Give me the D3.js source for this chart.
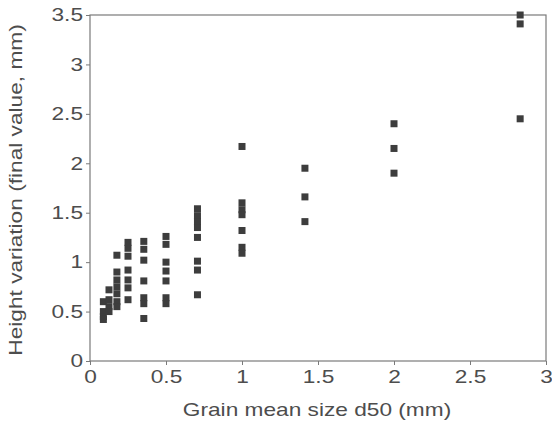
<!DOCTYPE html>
<html>
<head>
<meta charset="utf-8">
<script src="https://d3js.org/d3.v7.min.js"></script>
<style>
  body { margin: 0; background: #fff; }
  text { font-family: "Liberation Sans", Arial, sans-serif; fill: #4d4d4d; }
</style>
</head>
<body>
<svg width="552" height="424"></svg>
<script>
// grain sizes d50 (mm), one column of runs per size
const sizes = [0.088, 0.125, 0.177, 0.25, 0.354, 0.5, 0.707, 1.0, 1.414, 2.0, 2.83];
// final height variation (mm) for each run, per grain size
const heights = [
  [0.6, 0.5, 0.45, 0.42],
  [0.72, 0.62, 0.55, 0.5],
  [1.07, 0.9, 0.82, 0.75, 0.68, 0.6, 0.55],
  [1.2, 1.14, 1.06, 0.92, 0.82, 0.74, 0.62],
  [1.21, 1.13, 1.02, 0.81, 0.64, 0.58, 0.43],
  [1.26, 1.18, 1.0, 0.91, 0.81, 0.64, 0.58],
  [1.54, 1.47, 1.41, 1.35, 1.25, 1.01, 0.92, 0.67],
  [2.17, 1.6, 1.53, 1.48, 1.32, 1.15, 1.09],
  [1.95, 1.66, 1.41],
  [2.40, 2.15, 1.90],
  [3.5, 3.41, 2.45]
];
const xTicks = [0, 0.5, 1, 1.5, 2, 2.5, 3];
const yTicks = [0, 0.5, 1, 1.5, 2, 2.5, 3, 3.5];

const svg = d3.select("svg")
const margin = {top: 15, right: 6, bottom: 63, left: 90}
const W = 552, H = 424
const k = 1.26
const sx = `scale(${k},1)`  // the original lettering is wide

const x = d3.scaleLinear().domain([0, 3]).range([margin.left, W - margin.right])
const y = d3.scaleLinear().domain([0, 3.5]).range([H - margin.bottom, margin.top])

const pts = []
sizes.forEach((s, i) => heights[i].forEach(h => pts.push({d: s, h: h})))

// frame
svg.append("rect")
  .attr("x", x(0)).attr("y", y(3.5))
  .attr("width", x(3) - x(0)).attr("height", y(0) - y(3.5))
  .attr("fill", "none").attr("stroke", "#7a7a7a").attr("stroke-width", 1.2)

const xAxis = svg.append("g")
  .attr("transform", `translate(0,${y(0)})`)
  .call(d3.axisBottom(x).tickValues(xTicks).tickSize(4).tickPadding(4).tickFormat(d3.format("")))
const yAxis = svg.append("g")
  .attr("transform", `translate(${x(0)},0)`)
  .call(d3.axisLeft(y).tickValues(yTicks).tickSize(4).tickPadding(3).tickFormat(d3.format("")))

for (const ax of [xAxis, yAxis]) {
  ax.select(".domain").remove()
  ax.selectAll("line").attr("stroke", "#7a7a7a")
  ax.selectAll("text").attr("font-size", 18).attr("fill", "#4d4d4d")
    .style("font-family", "'Liberation Sans', Arial, sans-serif")
}
xAxis.selectAll("text").attr("transform", sx).attr("dy", "0.78em")
  .attr("x", 0)
yAxis.selectAll("text").attr("x", -7 / k).attr("transform", sx)

// points
svg.append("g")
  .selectAll("rect")
  .data(pts)
  .join("rect")
    .attr("x", d => x(d.d) - 3.5)
    .attr("y", d => y(d.h) - 3.5)
    .attr("width", 7)
    .attr("height", 7)
    .attr("fill", "#3d3d3d")

// axis titles
svg.append("text")
  .attr("transform", `translate(317,${H - 8}) ${sx}`)
  .attr("text-anchor", "middle")
  .attr("font-size", 18)
  .text("Grain mean size d50 (mm)")

svg.append("text")
  .attr("transform", `translate(22,${(y(0) + y(3.5)) / 2 + 2}) rotate(-90) ${sx}`)
  .attr("text-anchor", "middle")
  .attr("font-size", 18)
  .text("Height variation (final value, mm)")
</script>
</body>
</html>
